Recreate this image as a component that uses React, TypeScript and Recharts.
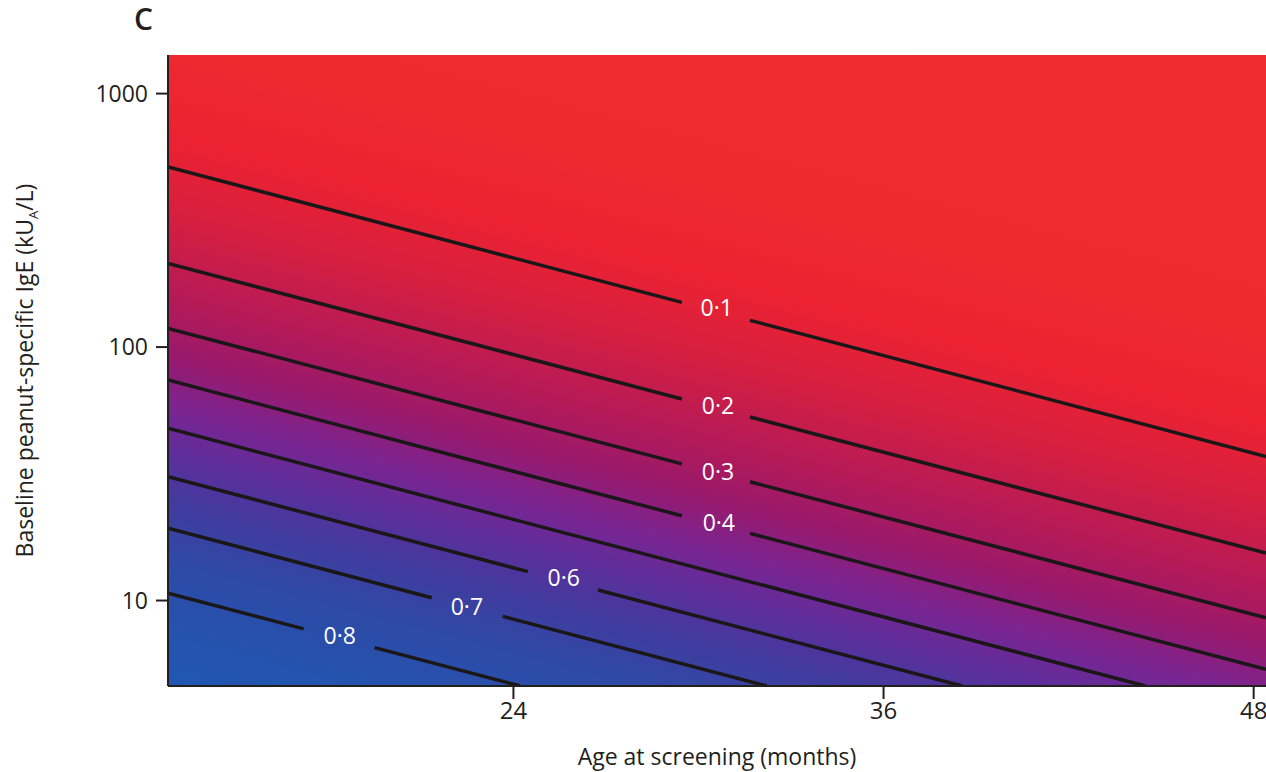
import React from 'react';
import { LineChart, Line, XAxis, YAxis, ReferenceArea, ReferenceDot } from 'recharts';

const FONT = "'Open Sans', 'Noto Sans', sans-serif";
const INK = '#231F20';
const LINE_INK = '#1B1718';

// Axes
const ageDomain: [number, number] = [12.8, 48.4];
const igeDomain: [number, number] = [4.6, 1420];
const ageTicks = [24, 36, 48];
const igeTicks = [10, 100, 1000];

// Contour lines (age in months, IgE in kUA/L); a null IgE marks the gap left for the label
const contour01 = [
  { age: 12.8, ige: 513.6 },
  { age: 29.46, ige: 150.1 },
  { age: 30.5, ige: null },
  { age: 31.67, ige: 127.5 },
  { age: 48.4, ige: 37.0 },
];
const contour02 = [
  { age: 12.8, ige: 213.8 },
  { age: 29.46, ige: 62.4 },
  { age: 30.5, ige: null },
  { age: 31.67, ige: 53.0 },
  { age: 48.4, ige: 15.4 },
];
const contour03 = [
  { age: 12.8, ige: 118.5 },
  { age: 29.46, ige: 34.6 },
  { age: 30.5, ige: null },
  { age: 31.67, ige: 29.4 },
  { age: 48.4, ige: 8.55 },
];
const contour04 = [
  { age: 12.8, ige: 74.1 },
  { age: 29.46, ige: 21.6 },
  { age: 30.5, ige: null },
  { age: 31.67, ige: 18.4 },
  { age: 48.4, ige: 5.35 },
];
const contour05 = [
  { age: 12.8, ige: 47.8 },
  { age: 44.49, ige: 4.6 },
];
const contour06 = [
  { age: 12.8, ige: 30.8 },
  { age: 24.47, ige: 13.0 },
  { age: 25.6, ige: null },
  { age: 26.74, ige: 11.0 },
  { age: 38.55, ige: 4.6 },
];
const contour07 = [
  { age: 12.8, ige: 19.3 },
  { age: 21.35, ige: 10.26 },
  { age: 22.5, ige: null },
  { age: 23.65, ige: 8.66 },
  { age: 32.21, ige: 4.6 },
];
const contour08 = [
  { age: 12.8, ige: 10.7 },
  { age: 17.2, ige: 7.73 },
  { age: 18.3, ige: null },
  { age: 19.5, ige: 6.52 },
  { age: 24.22, ige: 4.6 },
];
const contours = [contour01, contour02, contour03, contour04, contour05, contour06, contour07, contour08];

// Contour labels
const labelText = ['0·1', '0·2', '0·3', '0·4', '0·6', '0·7', '0·8'];
const labelAge = [30.59, 30.63, 30.63, 30.66, 25.63, 22.49, 18.37];
const labelIgE = [142.5, 58.5, 32.2, 20.2, 12.3, 9.45, 7.26];

const YTitle = (props: any) => {
  const vb = props.viewBox || { x: 0, y: 55, width: 168, height: 631 };
  const cx = 33;
  const cy = vb.y + vb.height / 2;
  return (
    <text
      x={cx}
      y={cy}
      transform={`rotate(-90, ${cx}, ${cy})`}
      textAnchor="middle"
      fontSize={23}
      fill={INK}
      fontFamily={FONT}
    >
      Baseline peanut-specific IgE (kU
      <tspan fontSize={13} dy={5}>A</tspan>
      <tspan dy={-5}>/L)</tspan>
    </text>
  );
};

const XTitle = (props: any) => {
  const vb = props.viewBox || { x: 168, y: 686, width: 1098, height: 60 };
  return (
    <text x={vb.x + vb.width / 2} y={765} textAnchor="middle" fontSize={23} fill={INK} fontFamily={FONT}>
      Age at screening (months)
    </text>
  );
};

export default function App() {
  return (
    <div style={{ position: 'relative', width: 1266, height: 772 }}>
      <style>{'html, body { margin: 0; padding: 0; }'}</style>
      <div
        style={{
          position: 'absolute',
          left: 134,
          top: -1,
          fontFamily: FONT,
          fontSize: 30,
          fontWeight: 600,
          color: INK,
          lineHeight: '40px',
        }}
      >
        C
      </div>
      <LineChart width={1266} height={772} margin={{ top: 55, right: 0, bottom: 26, left: 0 }}>
        <defs>
          <linearGradient id="probGrad" gradientUnits="userSpaceOnUse" x1={168} y1={-235} x2={-59.3} y2={626}>
            <stop offset={0} stopColor="#EF2D2E" />
            <stop offset={0.3} stopColor="#EE2A2F" />
            <stop offset={0.4} stopColor="#EC2231" />
            <stop offset={0.49} stopColor="#D51F40" />
            <stop offset={0.577} stopColor="#B51A57" />
            <stop offset={0.64} stopColor="#99196B" />
            <stop offset={0.694} stopColor="#7C2490" />
            <stop offset={0.747} stopColor="#5D2E9B" />
            <stop offset={0.801} stopColor="#413B9E" />
            <stop offset={0.864} stopColor="#2E4AA6" />
            <stop offset={0.95} stopColor="#2354AF" />
            <stop offset={1} stopColor="#2056B2" />
          </linearGradient>
        </defs>
        <XAxis
          dataKey="age"
          type="number"
          domain={ageDomain}
          ticks={ageTicks}
          allowDataOverflow
          height={60}
          tickSize={13}
          tickMargin={3}
          axisLine={{ stroke: INK, strokeWidth: 2 }}
          tickLine={{ stroke: INK, strokeWidth: 2 }}
          tick={{ fill: INK, fontSize: 24, fontFamily: FONT }}
          label={<XTitle />}
        />
        <YAxis
          type="number"
          scale="log"
          domain={igeDomain}
          ticks={igeTicks}
          allowDataOverflow
          width={168}
          tickSize={12}
          tickMargin={8}
          axisLine={{ stroke: INK, strokeWidth: 2 }}
          tickLine={{ stroke: INK, strokeWidth: 2 }}
          tick={{ fill: INK, fontSize: 23, fontFamily: FONT }}
          label={<YTitle />}
        />
        <ReferenceArea
          x1={ageDomain[0]}
          x2={ageDomain[1]}
          y1={igeDomain[0]}
          y2={igeDomain[1]}
          fill="url(#probGrad)"
          fillOpacity={1}
          stroke="none"
        />
        {contours.map((d, i) => (
          <Line
            key={i}
            data={d}
            dataKey="ige"
            stroke={LINE_INK}
            strokeWidth={3.5}
            dot={false}
            activeDot={false}
            isAnimationActive={false}
            connectNulls={false}
          />
        ))}
        {labelText.map((t, i) => (
          <ReferenceDot
            key={t}
            x={labelAge[i]}
            y={labelIgE[i]}
            r={0}
            fill="none"
            stroke="none"
            label={{ value: t, position: 'center', fill: '#FFFFFF', fontSize: 23, fontFamily: FONT }}
          />
        ))}
      </LineChart>
    </div>
  );
}
